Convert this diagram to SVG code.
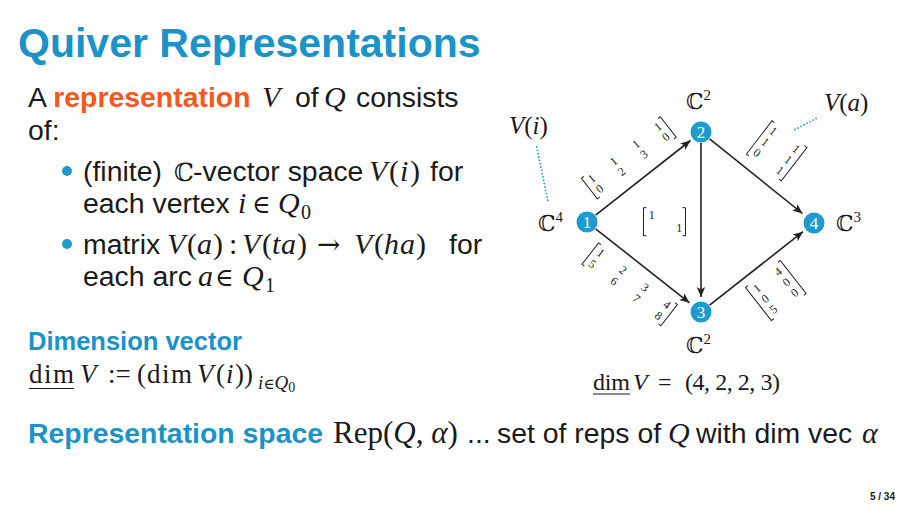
<svg xmlns="http://www.w3.org/2000/svg" width="907" height="510" viewBox="0 0 907 510">
<style>
.sans{font-family:"Liberation Sans",Arial,sans-serif;fill:#1a1a1a}
.b{font-weight:bold}
.blue{fill:#1b93c9}
.orange{fill:#f5571d}
.ser{font-family:"Liberation Serif","Times New Roman",serif;fill:#1a1a1a}
.it{font-style:italic}
.bb{font-family:"DejaVu Serif",serif;fill:#1a1a1a}
.sym{font-family:"DejaVu Serif",serif;fill:#1a1a1a}
.m{font-family:"Liberation Serif",serif;font-size:12px;text-anchor:middle;fill:#222}
.br{fill:none;stroke:#222;stroke-width:1}
.edge{stroke:#222;stroke-width:1.6;fill:none;marker-end:url(#arr)}
.dot{stroke:#1b9bcf;stroke-width:1.8;stroke-linecap:round;stroke-dasharray:0 3.4;fill:none}
.node circle{fill:#1e9acf}
.node text{font-family:"Liberation Serif",serif;font-size:17px;fill:#fff;text-anchor:middle}
</style>
<defs>
<marker id="arr" viewBox="-11 -5 12 10" refX="0" refY="0" markerWidth="12" markerHeight="10" markerUnits="userSpaceOnUse" orient="auto">
<path d="M0,0 L-10,-4.2 L-7.5,0 L-10,4.2 Z" fill="#222"/>
</marker>
</defs>
<rect width="907" height="510" fill="#fff"/>

<text class="sans b blue" x="18" y="57" font-size="41">Quiver Representations</text>

<g id="text-body">
<text class="sans" y="107" font-size="28.4"><tspan x="28">A </tspan><tspan class="b orange">representation</tspan><tspan class="ser it" x="262" font-size="30">V</tspan><tspan x="295">of</tspan><tspan class="ser it" x="324" font-size="30">Q</tspan><tspan x="356">consists</tspan></text>
<text class="sans" x="28" y="140" font-size="28.4">of:</text>
<circle cx="67" cy="171" r="5" fill="#1e9acf"/>
<circle cx="67" cy="244" r="5" fill="#1e9acf"/>
<text class="sans" y="181" font-size="28.4"><tspan x="83">(finite)</tspan><tspan class="bb" x="174" font-size="25">ℂ</tspan><tspan x="193">-vector space</tspan><tspan class="ser it" x="369" font-size="30">V</tspan><tspan class="ser" x="389" font-size="30">(</tspan><tspan class="ser it" x="400" font-size="30">i</tspan><tspan class="ser" x="410" font-size="30">)</tspan><tspan x="430">for</tspan></text>
<text class="sans" y="213" font-size="28.4"><tspan x="83">each vertex</tspan><tspan class="ser it" x="238" font-size="30">i</tspan><tspan class="sym" x="252" font-size="25">∈</tspan><tspan class="ser it" x="278" font-size="30">Q</tspan><tspan class="ser" x="301" dy="6" font-size="20">0</tspan></text>
<text class="sans" y="254" font-size="28.4"><tspan x="83">matrix</tspan><tspan class="ser it" x="167" font-size="30">V</tspan><tspan class="ser" x="187" font-size="30">(</tspan><tspan class="ser it" x="197" font-size="30">a</tspan><tspan class="ser" x="213" font-size="30">)</tspan><tspan class="ser" x="229" font-size="30">:</tspan><tspan class="ser it" x="242" font-size="30">V</tspan><tspan class="ser" x="262" font-size="30">(</tspan><tspan class="ser it" x="272" font-size="30">t</tspan><tspan class="ser it" x="281" font-size="30">a</tspan><tspan class="ser" x="297" font-size="30">)</tspan><tspan class="sym" x="317" font-size="28">→</tspan><tspan class="ser it" x="354" font-size="30">V</tspan><tspan class="ser" x="374" font-size="30">(</tspan><tspan class="ser it" x="384" font-size="30">h</tspan><tspan class="ser it" x="400" font-size="30">a</tspan><tspan class="ser" x="416" font-size="30">)</tspan><tspan x="449">for</tspan></text>
<text class="sans" y="286" font-size="28.4"><tspan x="83">each arc</tspan><tspan class="ser it" x="198" font-size="30">a</tspan><tspan class="sym" x="215" font-size="25">∈</tspan><tspan class="ser it" x="242" font-size="30">Q</tspan><tspan class="ser" x="265" dy="6" font-size="20">1</tspan></text>
</g>

<g id="dimension">
<text class="sans b blue" x="28" y="350" font-size="25.5">Dimension vector</text>
<text class="ser" y="383" font-size="27"><tspan x="29" textLength="45">dim</tspan><tspan class="it" x="80">V</tspan><tspan x="108">:=</tspan><tspan x="137">(</tspan><tspan x="147" textLength="45">dim</tspan><tspan class="it" x="197">V</tspan><tspan x="216">(</tspan><tspan class="it" x="226">i</tspan><tspan x="235">))</tspan><tspan class="it" x="258" dy="6" font-size="19">i</tspan><tspan class="sym" font-size="15">∈</tspan><tspan class="it" font-size="19">Q</tspan><tspan dy="3" font-size="14">0</tspan></text>
<line x1="29" y1="388.5" x2="74" y2="388.5" stroke="#1a1a1a" stroke-width="1.1"/>
</g>

<g id="dimvec-example">
<text class="ser" y="390" font-size="24"><tspan x="593" textLength="37">dim</tspan><tspan class="it" x="633">V</tspan><tspan x="658">=</tspan><tspan x="685" textLength="95">(4, 2, 2, 3)</tspan></text>
<line x1="593" y1="394" x2="630" y2="394" stroke="#1a1a1a" stroke-width="1"/>
</g>

<g id="rep-space">
<text class="sans" y="443" font-size="28.4"><tspan class="b blue" x="28">Representation space</tspan><tspan class="ser" x="333" font-size="31">Rep(</tspan><tspan class="ser it" font-size="31">Q</tspan><tspan class="ser" font-size="31">, </tspan><tspan class="ser it" font-size="31">α</tspan><tspan class="ser" font-size="31">)</tspan><tspan x="467">...</tspan><tspan x="497">set of reps of</tspan><tspan class="ser it" x="668" font-size="30">Q</tspan><tspan x="696">with dim vec</tspan><tspan class="ser it" x="862" font-size="30">α</tspan></text>
</g>

<text class="sans b" x="895" y="500" font-size="10" text-anchor="end">5 / 34</text>

<g id="connectors">
<line class="edge" x1="595.6" y1="215.2" x2="690.5" y2="140.5"/>
<line class="edge" x1="701" y1="143" x2="701" y2="297"/>
<line class="edge" x1="709.6" y1="138.9" x2="802.5" y2="213.5"/>
<line class="edge" x1="595.6" y1="228.8" x2="689.5" y2="302.8"/>
<line class="edge" x1="709.6" y1="305.2" x2="803" y2="231.7"/>
<path class="dot" d="M536.7,147 L548.3,203"/>
<path class="dot" d="M795,129.5 L817,118"/>
</g>

<g id="matrix-12" transform="translate(628.8,157.8) rotate(-38)">
<text class="m" x="-42" y="-2.5">1</text><text class="m" x="-14" y="-2.5">1</text><text class="m" x="14" y="-2.5">1</text><text class="m" x="42" y="-2.5">1</text>
<text class="m" x="-42" y="10.5">0</text><text class="m" x="-14" y="10.5">2</text><text class="m" x="14" y="10.5">3</text><text class="m" x="42" y="10.5">0</text>
<path class="br" d="M-47,-13 h-3 v26 h3 M47,-13 h3 v26 h-3"/>
</g>
<g id="matrix-13" transform="translate(629.7,284.4) rotate(38)">
<text class="m" x="-42" y="-3">1</text><text class="m" x="-14" y="-3">2</text><text class="m" x="14" y="-3">3</text><text class="m" x="42" y="-3">4</text>
<text class="m" x="-42" y="11">5</text><text class="m" x="-14" y="11">6</text><text class="m" x="14" y="11">7</text><text class="m" x="42" y="11">8</text>
<path class="br" d="M-47,-13.5 h-3 v27 h3 M47,-13.5 h3 v27 h-3"/>
</g>
<g id="matrix-24" transform="translate(776.7,150.8) rotate(37.5)">
<text class="m" x="-14.5" y="-9.5">1</text><text class="m" x="14.5" y="-9.5">1</text>
<text class="m" x="-14.5" y="4">1</text><text class="m" x="14.5" y="4">1</text>
<text class="m" x="-14.5" y="17.5">0</text><text class="m" x="14.5" y="17.5">1</text>
<path class="br" d="M-19,-21 h-3 v42 h3 M19,-21 h3 v42 h-3"/>
</g>
<g id="matrix-34" transform="translate(775.8,290.5) rotate(-38)">
<text class="m" x="-13.5" y="-9.3">1</text><text class="m" x="13.5" y="-9.3">4</text>
<text class="m" x="-13.5" y="4">0</text><text class="m" x="13.5" y="4">0</text>
<text class="m" x="-13.5" y="17.3">5</text><text class="m" x="13.5" y="17.3">0</text>
<path class="br" d="M-19,-21 h-3 v42 h3 M19,-21 h3 v42 h-3"/>
</g>
<g id="matrix-23" transform="translate(665.5,221.7)">
<text class="m" x="-13.8" y="-2.7">1</text><text class="m" x="13.8" y="10.7">1</text>
<path class="br" d="M-19,-14 h-3 v28 h3 M17,-14 h3 v28 h-3"/>
</g>

<g id="node-1" class="node"><circle cx="587" cy="222" r="10.5"/><text x="587" y="228">1</text></g>
<g id="node-2" class="node"><circle cx="701" cy="132" r="10.5"/><text x="701" y="138">2</text></g>
<g id="node-3" class="node"><circle cx="701" cy="312" r="10.5"/><text x="701" y="318">3</text></g>
<g id="node-4" class="node"><circle cx="814" cy="223" r="10.5"/><text x="814" y="229">4</text></g>

<g id="space-labels">
<text class="bb" x="538" y="231" font-size="22">ℂ<tspan dy="-9" font-size="15" class="ser">4</tspan></text>
<text class="bb" x="686" y="109" font-size="22">ℂ<tspan dy="-9" font-size="15" class="ser">2</tspan></text>
<text class="bb" x="836" y="231" font-size="22">ℂ<tspan dy="-9" font-size="15" class="ser">3</tspan></text>
<text class="bb" x="686" y="353" font-size="22">ℂ<tspan dy="-9" font-size="15" class="ser">2</tspan></text>
</g>
<g id="annot-Vi"><text class="ser blue" x="509" y="134" font-size="25"><tspan class="it">V</tspan>(<tspan class="it">i</tspan>)</text></g>
<g id="annot-Va"><text class="ser blue" x="824" y="111" font-size="25"><tspan class="it">V</tspan>(<tspan class="it">a</tspan>)</text></g>
</svg>
